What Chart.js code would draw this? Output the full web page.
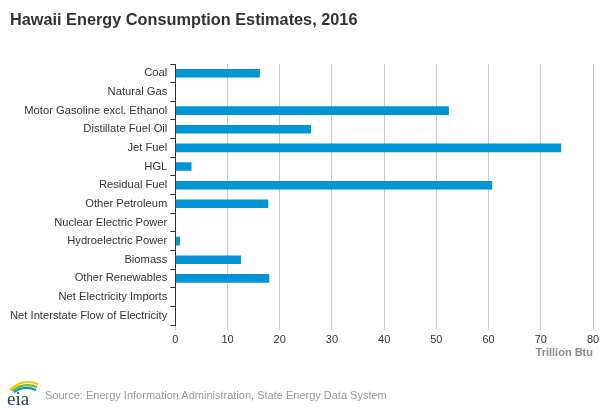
<!DOCTYPE html>
<html>
<head>
<meta charset="utf-8">
<script src="https://cdn.jsdelivr.net/npm/chart.js@4"></script>
<style>
  body { margin: 0; background: #fff; font-family: "Liberation Sans", Arial, sans-serif; }
  #wrap { position: relative; width: 612px; height: 408px; }
  #chart { position: absolute; left: 0; top: 0; }
  #title { position: absolute; left: 10px; top: 10px; font-size: 16.3px; font-weight: bold; color: #333; }
  #source { position: absolute; left: 45px; top: 389px; font-size: 11px; color: #999; }
  #logo { position: absolute; left: 4px; top: 376px; }
</style>
</head>
<body>
<div id="wrap">
  <canvas id="chart" width="612" height="408"></canvas>
  <div id="title">Hawaii Energy Consumption Estimates, 2016</div>
  <svg id="logo" width="40" height="32" viewBox="0 0 40 32">
    <path d="M6 14 Q18 2 34 8" stroke="#f2c500" stroke-width="2.2" fill="none"/>
    <path d="M8 15 Q19 6 33 11" stroke="#7ab51d" stroke-width="2.2" fill="none"/>
    <path d="M10 16 Q20 9 32 14" stroke="#0096d6" stroke-width="2.2" fill="none"/>
    <text x="3" y="29" font-family="Liberation Serif, serif" font-size="19" fill="#1f3e6e">eia</text>
  </svg>
  <div id="source">Source: Energy Information Administration, State Energy Data System</div>
</div>
<script>
const categories = [
  'Coal', 'Natural Gas', 'Motor Gasoline excl. Ethanol', 'Distillate Fuel Oil',
  'Jet Fuel', 'HGL', 'Residual Fuel', 'Other Petroleum', 'Nuclear Electric Power',
  'Hydroelectric Power', 'Biomass', 'Other Renewables', 'Net Electricity Imports',
  'Net Interstate Flow of Electricity'
];
const consumption = [16.2, 0, 52.4, 26.0, 73.9, 3.1, 60.7, 17.8, 0, 0.9, 12.6, 18.0, 0, 0];
const xTicks = [0, 10, 20, 30, 40, 50, 60, 70, 80];

new Chart(document.getElementById('chart'), {
  type: 'bar',
  data: {
    labels: categories,
    datasets: [{
      data: consumption,
      backgroundColor: '#0096d6',
      categoryPercentage: 1,
      barPercentage: 0.46
    }]
  },
  options: {
    indexAxis: 'y',
    responsive: false,
    animation: false,
    layout: { padding: { top: 64, right: 19, bottom: 48, left: 0 } },
    plugins: { legend: { display: false }, tooltip: { enabled: false } },
    scales: {
      x: {
        min: 0,
        max: 80,
        afterBuildTicks: s => { s.ticks = xTicks.map(v => ({ value: v })); },
        afterFit: s => { s.height = 35; },
        grid: { color: '#c8c8c8', tickLength: 5, tickColor: '#c8c8c8' },
        border: { display: false },
        ticks: { color: '#333', font: { family: 'Liberation Sans', size: 11 }, padding: 3 },
        title: {
          display: true, text: 'Trillion Btu', align: 'end', color: '#8c8c8c',
          font: { family: 'Liberation Sans', size: 11, weight: 'bold' }, padding: 0
        }
      },
      y: {
        afterFit: s => { s.width = 175.3; },
        grid: { drawOnChartArea: false, tickLength: 5, color: '#333', offset: true },
        border: { display: true, color: '#333', width: 1 },
        ticks: { color: '#333', font: { family: 'Liberation Sans', size: 11.2 }, padding: 3, autoSkip: false }
      }
    }
  }
});
</script>
</body>
</html>
